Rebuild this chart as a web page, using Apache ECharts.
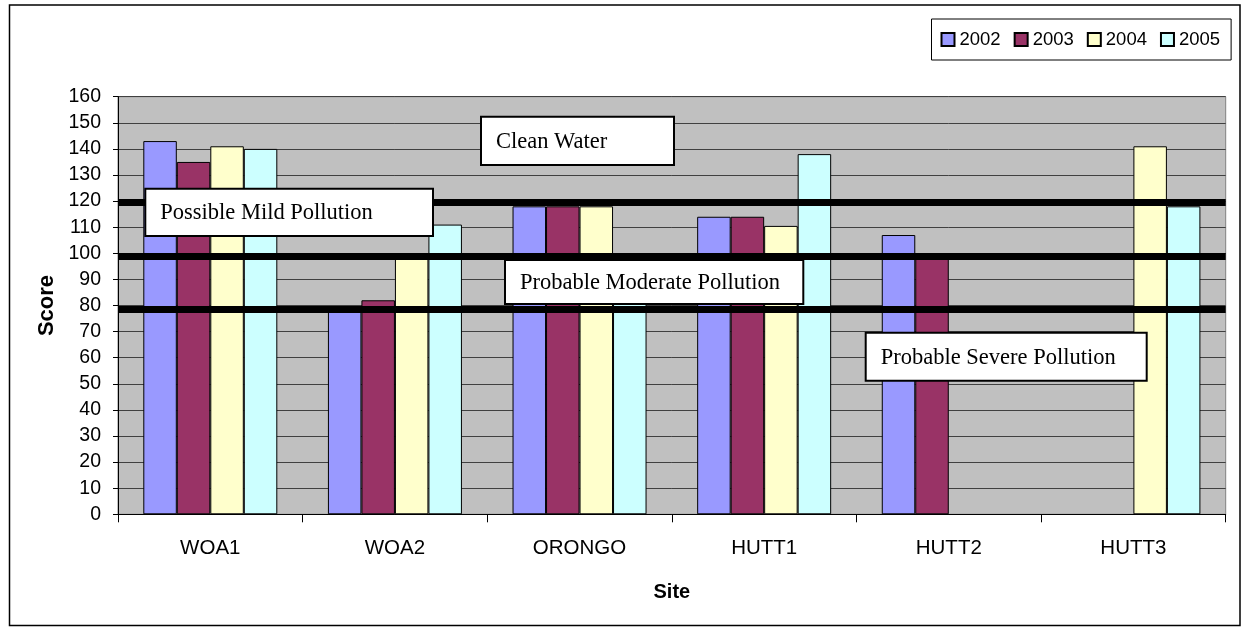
<!DOCTYPE html>
<html>
<head>
<meta charset="utf-8">
<script src="https://cdn.jsdelivr.net/npm/echarts@6/dist/echarts.min.js"></script>
<style>
html,body{margin:0;padding:0;background:#fff;}
#c{width:1247px;height:631px;}
</style>
</head>
<body>
<div id="c"></div>
<script>
// ---- data ----
var sites = ['WOA1', 'WOA2', 'ORONGO', 'HUTT1', 'HUTT2', 'HUTT3'];
var years = ['2002', '2003', '2004', '2005'];
var v2002 = [143, 79, 118, 114, 107, null];
var v2003 = [135, 82, 118, 114, 98, null];
var v2004 = [141, 100, 118, 110.5, null, 141];
var v2005 = [140, 111, 90, 138, null, 118];
var thresholds = [119.4, 98.9, 78.4];
var yTicks = {min: 0, max: 160, interval: 10};
var zoneLabels = ['Clean Water', 'Possible Mild Pollution', 'Probable Moderate Pollution', 'Probable Severe Pollution'];

var colors = ['#9999FF', '#993366', '#FFFFCC', '#CCFFFF'];
var seriesValues = [v2002, v2003, v2004, v2005];

var chart = echarts.init(document.getElementById('c'), null, {renderer: 'canvas'});

var series = years.map(function (y, i) {
  var s = {
    name: y,
    type: 'bar',
    data: seriesValues[i],
    barWidth: 33.5,
    barGap: '0%',
    itemStyle: {color: colors[i], borderColor: '#000', borderWidth: 1},
    emphasis: {disabled: true},
    z: 2
  };
  if (i === 0) {
    s.markLine = {
      silent: true,
      symbol: ['none', 'none'],
      label: {show: false},
      lineStyle: {color: '#000', width: 7, type: 'solid'},
      data: thresholds.map(function (t) { return {yAxis: t}; }),
      z: 5
    };
  }
  return s;
});

function box(x, y, w, h, text) {
  return {
    type: 'group',
    z: 100,
    children: [
      {type: 'rect', shape: {x: x, y: y, width: w, height: h},
       style: {fill: '#fff', stroke: '#000', lineWidth: 2}, z: 100},
      {type: 'text', x: x + 15, y: y + h / 2 + 1,
       style: {text: text, fill: '#000', font: '22.5px "Liberation Serif", "Times New Roman", serif',
               verticalAlign: 'middle', align: 'left'}, z: 101}
    ]
  };
}

var option = {
  animation: false,
  backgroundColor: '#fff',
  textStyle: {fontFamily: '"Liberation Sans", Arial, sans-serif'},
  grid: {left: 118, right: 21.3, top: 96.7, bottom: 116.7, show: true,
         backgroundColor: '#C0C0C0', borderColor: '#808080', borderWidth: 1},
  legend: {
    data: years,
    left: 931.5, top: 19,
    orient: 'horizontal',
    icon: 'rect',
    itemWidth: 13, itemHeight: 13,
    itemGap: 13,
    padding: [11, 11, 11, 9],
    backgroundColor: '#fff',
    borderColor: '#000', borderWidth: 1,
    textStyle: {fontSize: 18.5, color: '#000', fontFamily: '"Liberation Sans", Arial, sans-serif'}
  },
  xAxis: {
    type: 'category',
    data: sites,
    name: 'Site',
    nameLocation: 'middle',
    nameGap: 68,
    nameTextStyle: {fontSize: 20, fontWeight: 'bold', color: '#000'},
    axisLine: {lineStyle: {color: '#000', width: 1}},
    axisTick: {show: true, length: 8, lineStyle: {color: '#000'}},
    axisLabel: {fontSize: 20.5, color: '#000', margin: 24},
    splitLine: {show: false}
  },
  yAxis: {
    type: 'value',
    min: yTicks.min, max: yTicks.max, interval: yTicks.interval,
    name: 'Score',
    nameLocation: 'middle',
    nameRotate: 90,
    nameGap: 59,
    nameTextStyle: {fontSize: 22, fontWeight: 'bold', color: '#000'},
    axisLine: {show: true, lineStyle: {color: '#000', width: 1}},
    axisTick: {show: true, length: 5, lineStyle: {color: '#000'}},
    axisLabel: {fontSize: 19.5, color: '#000', margin: 17},
    splitLine: {show: true, lineStyle: {color: '#404040', width: 1}}
  },
  series: series,
  graphic: [
    {type: 'rect', z: -10, shape: {x: 9.5, y: 5, width: 1230.5, height: 620.5},
     style: {fill: 'none', stroke: '#000', lineWidth: 1.5}, silent: true},
    box(481, 116.7, 193, 48.3, zoneLabels[0]),
    box(145.3, 188.7, 287.7, 47.3, zoneLabels[1]),
    box(505, 260, 298.3, 44, zoneLabels[2]),
    box(865.7, 332.7, 281, 48, zoneLabels[3])
  ]
};
chart.setOption(option);
</script>
</body>
</html>
